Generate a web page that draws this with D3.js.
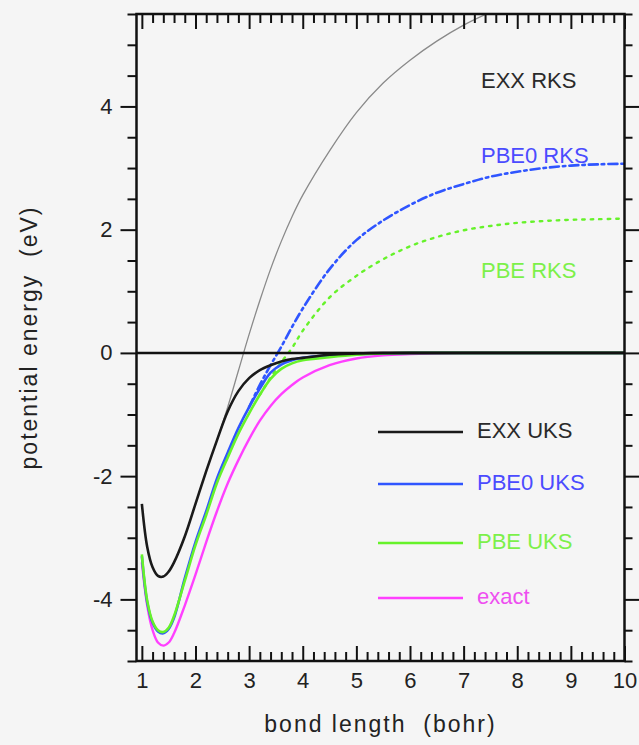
<!DOCTYPE html>
<html>
<head>
<meta charset="utf-8">
<script src="https://cdn.jsdelivr.net/npm/d3@7"></script>
<style>
  html, body { margin: 0; padding: 0; background: #f5f5f5; }
  svg { display: block; font-family: "Liberation Sans", Arial, sans-serif; }
</style>
</head>
<body>
<div id="container"></div>
<script>
// bond length grid used by the unrestricted curves (bohr)
const bondUKS = [1.0, 1.1, 1.2, 1.3, 1.4, 1.5, 1.6, 1.8, 2.0, 2.2, 2.4, 2.6, 2.8, 3.0,
                 3.2, 3.4, 3.6, 3.8, 4.0, 4.5, 5.0, 5.5, 6.0, 7.0, 8.0, 9.0, 10.0];

// potential energies (eV)
const exxUKS  = [-2.45, -3.15, -3.48, -3.62, -3.63, -3.55, -3.40, -2.98, -2.45, -1.92, -1.42, -0.95, -0.62, -0.41,
                 -0.28, -0.20, -0.14, -0.10, -0.08, -0.03, -0.01, 0, 0, 0, 0, 0, 0];
const pbe0UKS = [-3.30, -4.05, -4.38, -4.52, -4.55, -4.48, -4.30, -3.66, -3.07, -2.57, -2.04, -1.62, -1.22, -0.88,
                 -0.58, -0.32, -0.19, -0.12, -0.08, -0.04, -0.02, -0.01, 0, 0, 0, 0, 0];
const pbeUKS  = [-3.27, -4.02, -4.36, -4.50, -4.53, -4.46, -4.27, -3.70, -3.12, -2.63, -2.11, -1.70, -1.31, -0.98,
                 -0.68, -0.42, -0.26, -0.17, -0.12, -0.07, -0.03, -0.01, 0, 0, 0, 0, 0];
const exact   = [-3.40, -4.10, -4.50, -4.70, -4.75, -4.70, -4.55, -4.10, -3.60, -3.07, -2.57, -2.12, -1.74, -1.40,
                 -1.10, -0.86, -0.67, -0.52, -0.40, -0.20, -0.09, -0.04, -0.02, 0, 0, 0, 0];

// restricted curves, from where they leave the UKS branch
const bondExxRKS = [2.4, 2.6, 2.8, 3.0, 3.2, 3.4, 3.6, 3.8, 4.0, 4.5, 5.0, 5.5, 6.0, 6.5, 7.0, 7.5, 8.0, 8.5];
const exxRKS     = [-1.42, -0.88, -0.29, 0.30, 0.85, 1.36, 1.81, 2.21, 2.56, 3.28, 3.90, 4.38, 4.75, 5.06, 5.32, 5.53, 5.72, 5.88];

const bondPbe0RKS = [3.0, 3.2, 3.4, 3.6, 3.8, 4.0, 4.5, 5.0, 5.5, 6.0, 6.5, 7.0, 7.5, 8.0, 8.5, 9.0, 9.5, 10.0];
const pbe0RKS     = [-0.88, -0.52, -0.20, 0.10, 0.42, 0.72, 1.36, 1.83, 2.15, 2.40, 2.60, 2.74, 2.86, 2.94, 3.00, 3.04, 3.06, 3.07];

const bondPbeRKS = [3.2, 3.4, 3.6, 3.8, 4.0, 4.5, 5.0, 5.5, 6.0, 6.5, 7.0, 7.5, 8.0, 8.5, 9.0, 9.5, 10.0];
const pbeRKS     = [-0.68, -0.40, -0.15, 0.08, 0.36, 0.90, 1.25, 1.52, 1.73, 1.88, 1.99, 2.06, 2.11, 2.14, 2.16, 2.17, 2.18];

const xTicks = [1, 2, 3, 4, 5, 6, 7, 8, 9, 10];
const yTicks = [-4, -2, 0, 2, 4];

const legendNames = ["EXX UKS", "PBE0 UKS", "PBE UKS", "exact"];
const rksNames    = ["EXX RKS", "PBE0 RKS", "PBE RKS"];

// ---------------------------------------------------------------
const width  = 639;
const height = 745;
const margin = { top: 14, right: 14.5, bottom: 84, left: 136.5 };

const svg = d3.select("#container")
  .append("svg")
    .attr("width", width)
    .attr("height", height);

const x = d3.scaleLinear()
  .domain([0.9, 10])
  .range([margin.left, width - margin.right]);

const y = d3.scaleLinear()
  .domain([-5, 5.5])
  .range([height - margin.bottom, margin.top]);

const zip = (xs, ys) => xs.map((v, i) => [v, ys[i]]);

svg.append("clipPath").attr("id", "plot")
  .append("rect")
    .attr("x", margin.left).attr("y", margin.top)
    .attr("width", width - margin.left - margin.right)
    .attr("height", height - margin.top - margin.bottom);

const line = d3.line()
  .x(d => x(d[0]))
  .y(d => y(d[1]))
  .curve(d3.curveCatmullRom.alpha(0.5));

const series = [
  { pts: zip(bondExxRKS, exxRKS),   color: "#8a8a8a", w: 1.3 },
  { pts: zip(bondPbe0RKS, pbe0RKS), color: "#2f55ff", w: 2.6, dash: "9,4,2.5,4" },
  { pts: zip(bondPbeRKS, pbeRKS),   color: "#66f22a", w: 2.4, dash: "2.5,6" },
  { pts: zip(bondUKS, exact),       color: "#ff40ff", w: 2.4 },
  { pts: zip(bondUKS, pbe0UKS),     color: "#2f55ff", w: 2.6 },
  { pts: zip(bondUKS, pbeUKS),      color: "#66f22a", w: 2.6 },
  { pts: zip(bondUKS, exxUKS),      color: "#1a1a1a", w: 2.6 }
];

const curves = svg.append("g").attr("clip-path", "url(#plot)");

curves.selectAll("path.curve")
  .data(series)
  .join("path")
    .attr("class", "curve")
    .attr("d", d => line(d.pts))
    .attr("fill", "none")
    .attr("stroke", d => d.color)
    .attr("stroke-width", d => d.w)
    .attr("stroke-dasharray", d => d.dash || null)
    .attr("stroke-linecap", d => d.dash ? "round" : "butt");

// zero line
svg.append("line")
  .attr("x1", x(0.9)).attr("x2", x(10))
  .attr("y1", y(0)).attr("y2", y(0))
  .attr("stroke", "#111")
  .attr("stroke-width", 2.5);

// Axes
const xMinor = d3.range(1, 10.01, 0.2).filter(v => Math.abs(v - Math.round(v)) > 0.01);
const yMinor = d3.range(-5, 5.51, 0.5).filter(v => Math.abs(v % 2) > 0.01);
const plain  = d => String(d);

function styleAxis(g) {
  g.select(".domain").remove();
  g.selectAll(".tick line").attr("stroke", "#111").attr("stroke-width", 2);
  g.selectAll("text")
    .attr("fill", "#222")
    .attr("font-size", 22)
    .attr("font-family", "'Liberation Sans', Arial, sans-serif");
}

const bottomY = height - margin.bottom;

svg.append("g")
  .attr("transform", `translate(0,${bottomY})`)
  .call(d3.axisBottom(x).tickValues(xTicks).tickSize(-15).tickPadding(11).tickFormat(plain))
  .call(styleAxis);
svg.append("g")
  .attr("transform", `translate(0,${bottomY})`)
  .call(d3.axisBottom(x).tickValues(xMinor).tickSize(-9).tickFormat(""))
  .call(styleAxis);

svg.append("g")
  .attr("transform", `translate(0,${margin.top})`)
  .call(d3.axisTop(x).tickValues(xTicks).tickSize(-15).tickFormat(""))
  .call(styleAxis);
svg.append("g")
  .attr("transform", `translate(0,${margin.top})`)
  .call(d3.axisTop(x).tickValues(xMinor).tickSize(-9).tickFormat(""))
  .call(styleAxis);

svg.append("g")
  .attr("transform", `translate(${margin.left},0)`)
  .call(d3.axisLeft(y).tickValues(yTicks).tickSize(16).tickPadding(8).tickFormat(plain))
  .call(styleAxis);
svg.append("g")
  .attr("transform", `translate(${margin.left},0)`)
  .call(d3.axisLeft(y).tickValues(yMinor).tickSize(9).tickFormat(""))
  .call(styleAxis);

svg.append("g")
  .attr("transform", `translate(${width - margin.right},0)`)
  .call(d3.axisRight(y).tickValues(yTicks).tickSize(15).tickFormat(""))
  .call(styleAxis);
svg.append("g")
  .attr("transform", `translate(${width - margin.right},0)`)
  .call(d3.axisRight(y).tickValues(yMinor).tickSize(8).tickFormat(""))
  .call(styleAxis);

// frame
svg.append("rect")
  .attr("x", margin.left).attr("y", margin.top)
  .attr("width", width - margin.left - margin.right)
  .attr("height", height - margin.top - margin.bottom)
  .attr("fill", "none")
  .attr("stroke", "#111")
  .attr("stroke-width", 2.5);

// axis titles
svg.append("text")
  .attr("x", (margin.left + width - margin.right) / 2)
  .attr("y", 732)
  .attr("text-anchor", "middle")
  .attr("font-size", 23)
  .attr("letter-spacing", 2)
  .attr("fill", "#222")
  .style("white-space", "pre")
  .text("bond length  (bohr)");

svg.append("text")
  .attr("transform", `translate(37,${(margin.top + bottomY) / 2}) rotate(-90)`)
  .attr("text-anchor", "middle")
  .attr("font-size", 23)
  .attr("letter-spacing", 2)
  .attr("fill", "#222")
  .style("white-space", "pre")
  .text("potential energy  (eV)");

// legend for UKS / exact curves
const legendColors = ["#1a1a1a", "#2f55ff", "#66f22a", "#ff40ff"];
const labelColors  = ["#2a2a2a", "#4b4bff", "#7cf04a", "#ee4ff0"];
const legendY      = [432, 484, 543, 598];

const legend = svg.append("g");
legendNames.forEach((name, i) => {
  legend.append("line")
    .attr("x1", 378).attr("x2", 463)
    .attr("y1", legendY[i]).attr("y2", legendY[i])
    .attr("stroke", legendColors[i])
    .attr("stroke-width", 2.4);
  legend.append("text")
    .attr("x", 477)
    .attr("y", legendY[i] + 6)
    .attr("font-size", 22)
    .attr("fill", labelColors[i])
    .text(name);
});

// labels for RKS curves
const rksColors = ["#2a2a2a", "#4b4bff", "#7cf04a"];
const rksY      = [88, 163, 278];
rksNames.forEach((name, i) => {
  svg.append("text")
    .attr("x", 481)
    .attr("y", rksY[i])
    .attr("font-size", 22)
    .attr("fill", rksColors[i])
    .text(name);
});
</script>
</body>
</html>
